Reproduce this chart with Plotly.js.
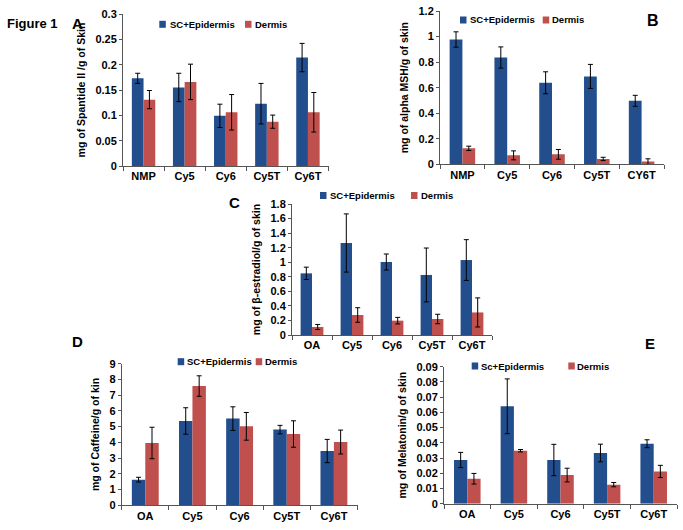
<!DOCTYPE html>
<html><head><meta charset="utf-8">
<script src="https://cdn.plot.ly/plotly-3.0.1.min.js"></script>
<style>html,body{margin:0;padding:0;background:#fff}#chart{width:683px;height:530px}</style>
</head><body><div id="chart"></div>
<script>
// ---- data ----
const seriesA = ['SC+Epidermis', 'Dermis'];
const seriesE = ['Sc+Epidermis', 'Dermis'];

const catsA = ['NMP', 'Cy5', 'Cy6', 'Cy5T', 'Cy6T'];
const epiA = [0.173, 0.155, 0.099, 0.123, 0.214];
const epiErrA = [0.010, 0.028, 0.023, 0.040, 0.028];
const derA = [0.131, 0.166, 0.106, 0.0875, 0.106];
const derErrA = [0.018, 0.035, 0.035, 0.013, 0.039];

const catsB = ['NMP', 'Cy5', 'Cy6', 'Cy5T', 'CY6T'];
const epiB = [0.977, 0.836, 0.638, 0.688, 0.497];
const epiErrB = [0.060, 0.083, 0.086, 0.094, 0.043];
const derB = [0.125, 0.070, 0.078, 0.042, 0.021];
const derErrB = [0.017, 0.035, 0.038, 0.013, 0.022];

const catsC = ['OA', 'Cy5', 'Cy6', 'Cy5T', 'Cy6T'];
const epiC = [0.847, 1.264, 1.003, 0.825, 1.030];
const epiErrC = [0.085, 0.400, 0.110, 0.370, 0.280];
const derC = [0.110, 0.275, 0.197, 0.220, 0.310];
const derErrC = [0.035, 0.100, 0.045, 0.065, 0.200];

const catsD = ['OA', 'Cy5', 'Cy6', 'Cy5T', 'Cy6T'];
const epiD = [1.63, 5.36, 5.51, 4.81, 3.45];
const epiErrD = [0.15, 0.84, 0.75, 0.27, 0.74];
const derD = [3.96, 7.58, 5.02, 4.53, 4.02];
const derErrD = [1.00, 0.65, 0.88, 0.84, 0.76];

const catsE = ['OA', 'Cy5', 'Cy6', 'Cy5T', 'Cy6T'];
const epiE = [0.0287, 0.0640, 0.0287, 0.0333, 0.0394];
const epiErrE = [0.0050, 0.0180, 0.0103, 0.0058, 0.0026];
const derE = [0.0164, 0.0348, 0.0188, 0.0125, 0.0212];
const derErrE = [0.0035, 0.0008, 0.0045, 0.0014, 0.0040];

const yTitles = ['mg of Spantide II /g of Skin', 'mg of alpha MSH/g of skin',
  'mg of \u03b2-estradiol/g of skin', 'mg of Caffeine/g of kin', 'mg of Melatonin/g of skin'];

// ---- style ----
const W = 683, H = 530;
const BLUE = '#224e8d', RED = '#c0504d';
const FONT = 'Liberation Sans, Arial, sans-serif';
const px = x => x / W, py = y => 1 - y / H;

const panels = [
  {cats: catsA, s: [epiA, derA], e: [epiErrA, derErrA], names: seriesA, x: [123, 328.5], y: [14, 166], range: [0, 0.3], dtick: 0.05,
   leg: {y: 24.3, sq: [159.3, 245], tx: [167.5, 252.5]}, letter: {t: 'A', x: 77, y: 24, s: 15}},
  {cats: catsB, s: [epiB, derB], e: [epiErrB, derErrB], names: seriesA, x: [440, 664], y: [11, 164.3], range: [0, 1.2], dtick: 0.2,
   leg: {y: 20, sq: [460, 542.7], tx: [467.7, 550]}, letter: {t: 'B', x: 653, y: 21, s: 16}},
  {cats: catsC, s: [epiC, derC], e: [epiErrC, derErrC], names: seriesA, x: [292, 492], y: [204, 335], range: [0, 1.8], dtick: 0.2,
   leg: {y: 195.5, sq: [320, 411], tx: [327.5, 418.5]}, letter: {t: 'C', x: 234, y: 202, s: 15}},
  {cats: catsD, s: [epiD, derD], e: [epiErrD, derErrD], names: seriesA, x: [121.7, 357.5], y: [363.7, 505.3], range: [0, 9], dtick: 1,
   leg: {y: 361.7, sq: [177.7, 255.7], tx: [185.3, 263.3]}, letter: {t: 'D', x: 77, y: 341, s: 15}},
  {cats: catsE, s: [epiE, derE], e: [epiErrE, derErrE], names: seriesE, x: [444, 677], y: [366.7, 503.7], range: [0, 0.09], dtick: 0.01,
   leg: {y: 366, sq: [471.7, 568.3], tx: [479, 575]}, letter: {t: 'E', x: 650, y: 343, s: 15}}
];

const traces = [], annotations = [], shapes = [];
const layout = {
  width: W, height: H, margin: {l: 0, r: 0, t: 0, b: 0},
  paper_bgcolor: '#fff', plot_bgcolor: 'rgba(0,0,0,0)',
  barmode: 'group', bargap: 0.43, bargroupgap: 0, showlegend: false,
  font: {family: FONT, color: '#000'}
};

annotations.push({xref: 'paper', yref: 'paper', x: px(32), y: py(24), text: 'Figure 1', showarrow: false,
  xanchor: 'center', yanchor: 'middle', font: {family: FONT, size: 13, weight: 'bold', color: '#000'}});

panels.forEach((p, i) => {
  const n = i === 0 ? '' : String(i + 1);
  const xa = 'x' + n, ya = 'y' + n;
  [0, 1].forEach(k => {
    traces.push({
      type: 'bar', x: p.cats, y: p.s[k], name: p.names[k], xaxis: xa, yaxis: ya,
      marker: {color: k === 0 ? BLUE : RED, line: {width: 0}},
      error_y: {type: 'data', array: p.e[k], visible: true, color: '#000', thickness: 1, width: 2.5},
      hoverinfo: 'x+y+name'
    });
  });
  layout['xaxis' + n] = {
    domain: [px(p.x[0]), px(p.x[1])], anchor: ya, type: 'category',
    showline: true, linecolor: '#555', linewidth: 1, ticks: 'outside', tickson: 'boundaries',
    ticklen: 4, tickcolor: '#555', showgrid: false, zeroline: false, fixedrange: true,
    tickfont: {family: FONT, size: 11, weight: 'bold', color: '#000'}
  };
  layout['yaxis' + n] = {
    domain: [py(p.y[1]), py(p.y[0])], anchor: xa, range: p.range, dtick: p.dtick, tick0: 0,
    showline: true, linecolor: '#555', linewidth: 1, ticks: 'outside', ticklen: 3, tickcolor: '#555',
    showgrid: false, zeroline: false, fixedrange: true,
    tickfont: {family: FONT, size: 11, weight: 'bold', color: '#000'},
    title: {text: yTitles[i], standoff: 7, font: {family: FONT, size: 10.5, weight: 'bold', color: '#000'}}
  };
  // legend entries
  [0, 1].forEach(k => {
    shapes.push({type: 'rect', xref: 'paper', yref: 'paper',
      x0: px(p.leg.sq[k]), x1: px(p.leg.sq[k] + 6.5), y0: py(p.leg.y + 3.5), y1: py(p.leg.y - 3.5),
      fillcolor: k === 0 ? BLUE : RED, line: {width: 0}});
    annotations.push({xref: 'paper', yref: 'paper', x: px(p.leg.tx[k]), y: py(p.leg.y), text: p.names[k],
      showarrow: false, xanchor: 'left', yanchor: 'middle',
      font: {family: FONT, size: 9.5, weight: 'bold', color: '#000'}});
  });
  annotations.push({xref: 'paper', yref: 'paper', x: px(p.letter.x), y: py(p.letter.y), text: p.letter.t,
    showarrow: false, xanchor: 'center', yanchor: 'middle',
    font: {family: FONT, size: p.letter.s, weight: 'bold', color: '#000'}});
});

layout.annotations = annotations;
layout.shapes = shapes;
Plotly.newPlot('chart', traces, layout, {displayModeBar: false, staticPlot: true});
</script>
</body></html>
